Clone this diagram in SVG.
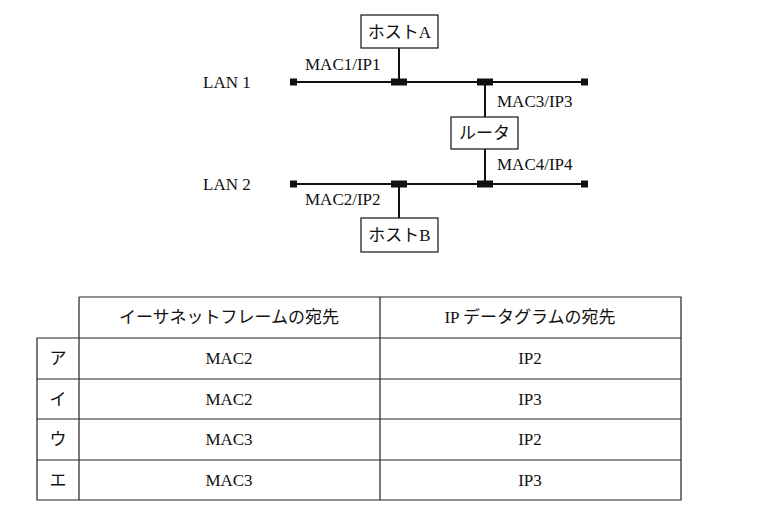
<svg xmlns="http://www.w3.org/2000/svg" width="757" height="511" viewBox="0 0 757 511">
<style>
text{font-family:"Liberation Serif","Times New Roman","DejaVu Serif","Noto Sans CJK JP",serif;font-size:17px;fill:#111}
.c{text-anchor:middle}
.ln{stroke:#111;stroke-width:2;fill:none}
.bx{fill:#fff;stroke:#111;stroke-width:1.2}
.tb{stroke:#222;stroke-width:1.2;fill:none}
</style>
<rect width="757" height="511" fill="#fff"/>
<g id="connectors">
<line class="ln" x1="293" y1="82" x2="585" y2="82"/>
<line class="ln" x1="293" y1="184" x2="585" y2="184"/>
<line class="ln" x1="399" y1="48" x2="399" y2="82" stroke-width="1.3"/>
<line class="ln" x1="485" y1="82" x2="485" y2="117" stroke-width="1.3"/>
<line class="ln" x1="485" y1="149" x2="485" y2="184" stroke-width="1.3"/>
<line class="ln" x1="399" y1="184" x2="399" y2="218" stroke-width="1.3"/>
<g fill="#111">
<rect x="290" y="78.5" width="7" height="7"/><rect x="581" y="78.5" width="7" height="7"/>
<rect x="290" y="180.5" width="7" height="7"/><rect x="581" y="180.5" width="7" height="7"/>
<rect x="391" y="78.5" width="16" height="7"/><rect x="477" y="78.5" width="16" height="7"/>
<rect x="391" y="180.5" width="16" height="7"/><rect x="477" y="180.5" width="16" height="7"/>
</g>
</g>
<g id="lan1"><text x="203" y="88">LAN 1</text></g>
<g id="lan2"><text x="203" y="190">LAN 2</text></g>
<g id="hostA"><rect class="bx" x="361" y="15" width="77" height="33"/><text class="c" x="399.5" y="38">ホストA</text></g>
<g id="router"><rect class="bx" x="451" y="117" width="67" height="32"/><text class="c" x="484.5" y="139">ルータ</text></g>
<g id="hostB"><rect class="bx" x="361" y="218" width="77" height="34"/><text class="c" x="399.5" y="241">ホストB</text></g>
<g id="labels">
<text x="305" y="70">MAC1/IP1</text>
<text x="497" y="107">MAC3/IP3</text>
<text x="497" y="170">MAC4/IP4</text>
<text x="305" y="205">MAC2/IP2</text>
</g>
<g id="table">
<path class="tb" d="M79 297H681V500H37V338H681M37 379H681M37 419H681M37 460H681M79 297V500M380 297V500M681 297V500M37 338V500"/>
<text class="c" x="229" y="323">イーサネットフレームの宛先</text>
<text class="c" x="530" y="323">IP データグラムの宛先</text>
<text class="c" x="58" y="364">ア</text><text class="c" x="229" y="364">MAC2</text><text class="c" x="530" y="364">IP2</text>
<text class="c" x="58" y="405">イ</text><text class="c" x="229" y="405">MAC2</text><text class="c" x="530" y="405">IP3</text>
<text class="c" x="58" y="445">ウ</text><text class="c" x="229" y="445">MAC3</text><text class="c" x="530" y="445">IP2</text>
<text class="c" x="58" y="486">エ</text><text class="c" x="229" y="486">MAC3</text><text class="c" x="530" y="486">IP3</text>
</g>
</svg>
